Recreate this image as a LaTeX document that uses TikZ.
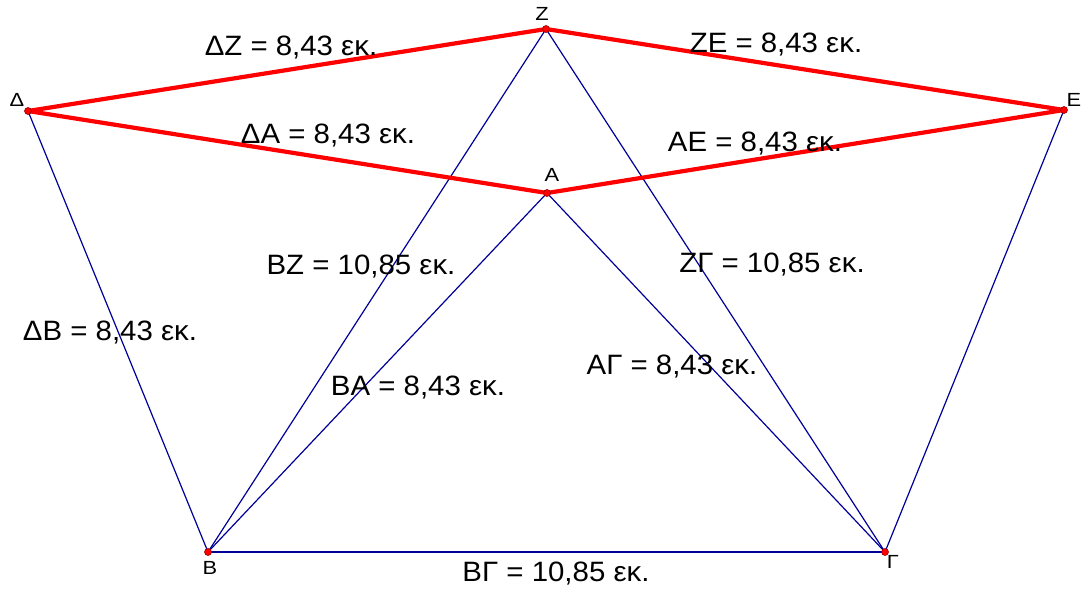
\documentclass[tikz,border=0pt]{standalone}
\usepackage{fontspec}
\setmainfont{Liberation Sans}
\usetikzlibrary{positioning}

\begin{document}
\begin{tikzpicture}[x=1pt,y=-1pt,
  side/.style={draw=blue!60!black,line width=1.2pt},
  redside/.style={draw=red,line width=4.2pt,line join=round},
  pt/.style={circle,draw=red!60!black,fill=red,inner sep=0pt,minimum size=7pt,line width=0.6pt},
  vname/.style={font=\fontsize{19}{21}\selectfont,xscale=1.15,inner sep=0pt,
                text height=13.5pt,text depth=0pt},
  len/.style={font=\fontsize{28}{32}\selectfont,xscale=1.05,inner sep=0pt,
              text height=20pt,text depth=0pt}
]
  \useasboundingbox (0,0) rectangle (1083,590);

  % vertices
  \coordinate (D) at (28,111);
  \coordinate (Z) at (546,29);
  \coordinate (E) at (1064,110);
  \coordinate (A) at (547,193);
  \coordinate (B) at (208,552);
  \coordinate (G) at (885,552);

  % blue sides
  \draw[side] (D) -- (B);
  \draw[side] (B) -- (Z);
  \draw[side] (B) -- (A);
  \draw[side] (B) -- (G);
  \draw[side] (Z) -- (G);
  \draw[side] (A) -- (G);
  \draw[side] (E) -- (G);

  % red rhombus
  \draw[redside] (D) -- (Z) -- (E) -- (A) -- cycle;

  \foreach \p in {D,Z,E,A,B,G}
    \node[pt] (pt\p) at (\p) {};

  % vertex names
  \node[vname] (nD) at (17,100) {Δ};
  \node[vname] (nZ) at (542,14) {Ζ};
  \node[vname] (nE) at (1074,100) {Ε};
  \node[vname] (nA) at (552,175) {Α};
  \node[vname] (nB) at (210,568) {Β};
  \node[vname] (nG) at (893,562) {Γ};

  % lengths
  \node[len] (lDZ) at (291,45) {ΔΖ = 8,43 εκ.};
  \node[len] (lZE) at (776,42) {ΖΕ = 8,43 εκ.};
  \node[len] (lDA) at (328,133) {ΔΑ = 8,43 εκ.};
  \node[len] (lAE) at (755,141) {ΑΕ = 8,43 εκ.};
  \node[len] (lBZ) at (361,264) {ΒΖ = 10,85 εκ.};
  \node[len] (lZG) at (772,262) {ΖΓ = 10,85 εκ.};
  \node[len] (lDB) at (110,330) {ΔΒ = 8,43 εκ.};
  \node[len] (lBA) at (418,385) {ΒΑ = 8,43 εκ.};
  \node[len] (lAG) at (672,364) {ΑΓ = 8,43 εκ.};
  \node[len] (lBG) at (556,571) {ΒΓ = 10,85 εκ.};
\end{tikzpicture}
\end{document}
